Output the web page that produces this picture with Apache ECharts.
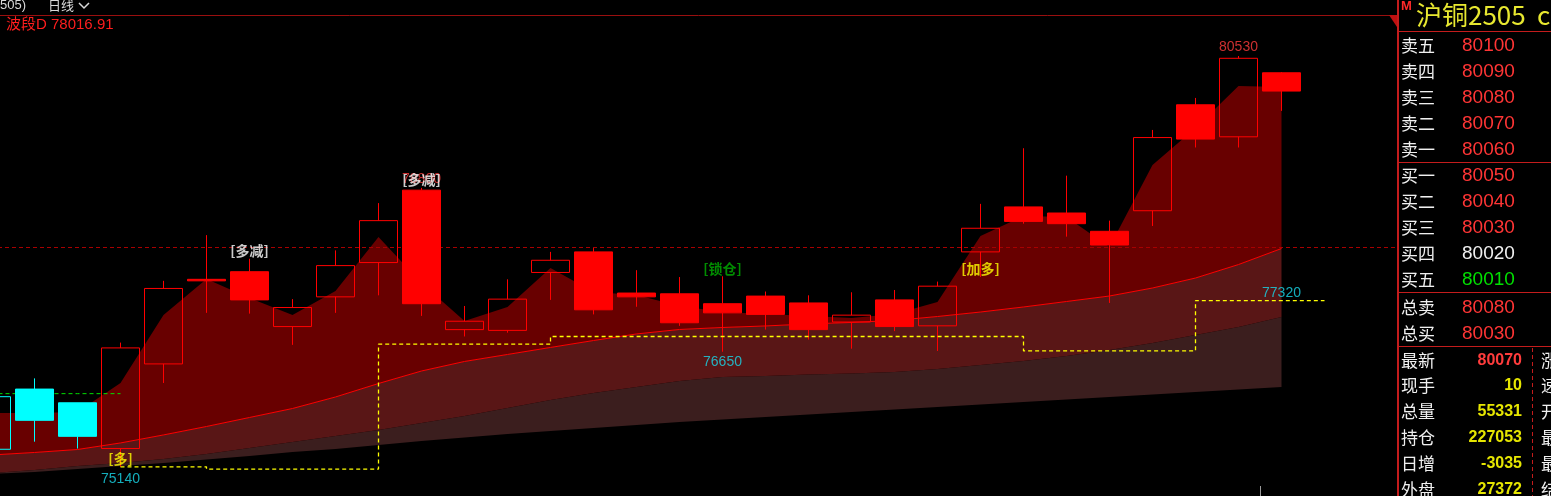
<!DOCTYPE html>
<html><head><meta charset="utf-8">
<script src="https://cdn.jsdelivr.net/npm/echarts@6/dist/echarts.min.js"></script>
<style>html,body{margin:0;padding:0;background:#000;overflow:hidden}#c{width:1551px;height:496px}</style>
</head><body><div id="c"></div>
<script>
// ---------- data ----------
const categories = ['1','2','3','4','5','6','7','8','9','10','11','12','13','14','15','16','17','18','19','20','21','22','23','24','25','26','27','28','29','30','31','32','33','34'];
const opens  = [75370,76160,75980,75380,76490,77600,77700,76980,77370,77820,78770,76940,76930,77690,77960,77420,77410,77280,77380,77290,77040,77330,76990,77960,78550,78470,78230,78500,79890,79470,80310];
const closes = [76060,75750,75540,76700,77480,77580,77330,77230,77780,78370,77280,77050,77340,77850,77200,77370,77030,77160,77140,76940,77130,76980,77510,78270,78360,78330,78050,79460,79440,80500,80070];
const lows   = [75300,75470,75380,75140,76240,77160,77150,76740,77160,77390,77120,76850,76900,77330,77140,77240,76990,76650,76940,76810,76690,76920,76660,77630,78330,78160,77290,78300,79330,79330,79810];
const highs  = [76150,76300,75980,76770,77580,78180,77870,77340,77980,78600,78800,77250,77600,77960,78010,77720,77630,77640,77440,77390,77430,77460,77570,78590,79320,78960,78370,79560,79980,80530,80320];
const trend  = ['bear','bear','bear','bull','bull','bull','bull','bull','bull','bull','bull','bull','bull','bull','bull','bull','bull','bull','bull','bull','bull','bull','bull','bull','bull','bull','bull','bull','bull','bull','bull'];
const waveLine = [75846,75846,75859,76240,77132,77604,77355,77132,77447,78155,77552,77053,77237,77749,77434,77394,77250,77171,77145,77119,77093,77145,77302,78168,78431,78418,78024,79100,79585,80136,80123];
const emaLine  = [75295,75328,75367,75453,75558,75669,75787,75905,76056,76233,76397,76522,76614,76706,76797,76883,76942,76968,76988,77014,77034,77060,77112,77171,77237,77309,77381,77486,77617,77794,78004];
const bandMid  = [75059,75098,75151,75190,75243,75308,75387,75466,75544,75623,75715,75807,75912,76017,76109,76187,76266,76318,76332,76351,76364,76384,76423,76476,76528,76594,76673,76765,76870,76974,77106];
const bandLow  = [75046,75072,75111,75151,75190,75236,75282,75334,75374,75426,75479,75525,75571,75610,75649,75689,75728,75761,75794,75826,75859,75892,75925,75958,75990,76023,76056,76089,76122,76154,76187];
const stopLine = [null,null,null,75140,75140,75110,75110,75110,75110,76750,76750,76750,76750,76850,76850,76850,76850,76850,76850,76850,76850,76850,76850,76850,76660,76660,76660,76660,77320,77320,77320,77320];
const greenLine = [76100,76100,76100,76100];
const bandValue = 78016.91;
const signals = [
  {idx:3,  at:'low',  text:'[多]'},
  {idx:6,  at:'high', text:'[多减]'},
  {idx:10, at:'high', text:'[多减]'},
  {idx:17, at:'high', text:'[锁仓]'},
  {idx:23, at:'low',  text:'[加多]'}
];
const extremeLabels = [
  {idx:3,  at:'low'},
  {idx:10, at:'high'},
  {idx:17, at:'low'},
  {idx:29, at:'high'}
];
const stopLabelIdx = 30;
const bookLabels = ['卖五','卖四','卖三','卖二','卖一','买一','买二','买三','买四','买五'];
const bookPrices = [80100,80090,80080,80070,80060,80050,80040,80030,80020,80010];
const totalLabels = ['总卖','总买'];
const totalPrices = [80080,80030];
const prevSettle = 80020;
const statLabels = ['最新','现手','总量','持仓','日增','外盘'];
const statValues = ['80070','10','55331','227053','-3035','27372'];
const sideLabels = ['涨','速','开','最','最','结'];

// ---------- chart ----------
const RED='#ff0000', CYAN='#00ffff';
const candleData = opens.map((o,i)=>{
  const it = {value:[o,closes[i],lows[i],highs[i]]};
  if (trend[i]==='bear') {
    const fill = closes[i] < o ? CYAN : 'rgba(0,0,0,0)';
    it.itemStyle = {color:fill,color0:fill,borderColor:CYAN,borderColor0:CYAN};
  }
  return it;
});
// stacked band layers (library needs each band as thickness above the one below)
const layerC = bandMid.map((v,i)=>v-bandLow[i]);
const layerB = emaLine.map((v,i)=>v-bandMid[i]);
const layerA = waveLine.map((v,i)=>v-emaLine[i]);

const sigColor = {'[多]':'#ffff00','[多减]':'#ffffff','[锁仓]':'#00b000','[加多]':'#ffff00'};
const labelData = [];
extremeLabels.forEach(e=>{
  const v = e.at==='high'?highs[e.idx]:lows[e.idx];
  const isHigh = e.at==='high';
  labelData.push({value:[e.idx,v],label:{show:true,formatter:String(v),
    color: isHigh?'#ff3c3c':'#19d8ea', offset:[0, isHigh?-9:(e.idx===3?12:10)],
    fontSize:14, fontFamily:'Liberation Sans, Arial, sans-serif'}});
});
signals.forEach(s=>{
  const v = s.at==='high'?highs[s.idx]:lows[s.idx];
  labelData.push({value:[s.idx,v],label:{show:true,formatter:s.text,color:sigColor[s.text],
    offset:[0,-8], fontSize:14, fontWeight:'bold',
    fontFamily:'"Noto Sans CJK SC", sans-serif'}});
});
labelData.push({value:[stopLabelIdx, stopLine[stopLabelIdx]],label:{show:true,formatter:String(stopLine[stopLabelIdx]),
  color:'#19d8ea',offset:[0,-8],fontSize:14,fontFamily:'Liberation Sans, Arial, sans-serif'}});

const gfx = [];
const T = (x,y,text,fill,font,align,z)=>gfx.push({type:'text',x:x,y:y,z:z||102,silent:true,
  style:{text:text,fill:fill,font:font,align:align||'left',verticalAlign:'middle'}});
const L = (x1,y1,x2,y2,stroke,w,dash)=>gfx.push({type:'line',z:101,silent:true,
  shape:{x1:x1,y1:y1,x2:x2,y2:y2},style:{stroke:stroke,lineWidth:w||1,lineDash:dash||null}});
// header
L(0,15.5,1397,15.5,'#9a0f0f',1);
T(0,5,'505)','#d9d9d9','13px "Liberation Sans", sans-serif');
T(48,5,'日线','#d9d9d9','13px "Noto Sans CJK SC", sans-serif');
gfx.push({type:'polyline',z:102,silent:true,shape:{points:[[79,3],[84,8],[89,3]]},style:{stroke:'#d9d9d9',lineWidth:1.5,fill:null}});
T(6,25,'波段D '+bandValue.toFixed(2),'#ff1e1e','15px "Liberation Sans", "Noto Sans CJK SC", sans-serif');
// small marker at the bottom
L(1260.5,486,1260.5,496,'#9a9a9a',1);
// right panel
gfx.push({type:'rect',z:100,silent:true,shape:{x:1397,y:0,width:154,height:496},style:{fill:'#000'}});
L(1398,0,1398,496,'#c41c1c',2);
[31.5,162.5,292.5,346.5].forEach(y=>L(1398,y,1551,y,'#c41c1c',1));
L(1532.5,348,1532.5,496,'#c41c1c',1,[4,3]);
gfx.push({type:'polygon',z:102,silent:true,shape:{points:[[1389,15],[1397,15],[1397,27]]},style:{fill:'#c01010'}});
T(1401,6,'M','#ff2a2a','bold 13px "Liberation Sans", sans-serif');
T(1416,15,'沪铜2505','#e8e830','26px "Noto Sans CJK SC", sans-serif');
T(1537,15,'cu2505','#e8e830','26px "Noto Sans CJK SC", sans-serif');
const pc = p=> p>prevSettle?'#ff3535':(p<prevSettle?'#00e000':'#f0f0f0');
bookLabels.forEach((l,i)=>{
  const y = i<5 ? 46+26*i : 176+26*(i-5);
  T(1401,y,l,'#f0f0f0','17px "Noto Sans CJK SC", sans-serif');
  T(1462,y,String(bookPrices[i]),pc(bookPrices[i]),'19px "Liberation Sans", sans-serif');
});
totalLabels.forEach((l,i)=>{
  const y = 308+26*i;
  T(1401,y,l,'#f0f0f0','17px "Noto Sans CJK SC", sans-serif');
  T(1462,y,String(totalPrices[i]),pc(totalPrices[i]),'19px "Liberation Sans", sans-serif');
});
const statY=[361,386,412,438,464,490];
statLabels.forEach((l,i)=>{
  T(1401,statY[i],l,'#f0f0f0','17px "Noto Sans CJK SC", sans-serif');
  T(1522,statY[i],statValues[i], i===0?'#ff3c3c':'#e6e600','bold 16px "Liberation Sans", sans-serif','right');
  T(1541,statY[i],sideLabels[i],'#f0f0f0','17px "Noto Sans CJK SC", sans-serif');
});

const chart = echarts.init(document.getElementById('c'),null,{renderer:'canvas'});
chart.setOption({
  backgroundColor:'#000',
  animation:false,
  grid:{left:-30, top:16, width:1462, height:480, containLabel:false, outerBoundsMode:'none'},
  xAxis:{type:'category',data:categories,boundaryGap:true,show:false},
  yAxis:{type:'value',min:74757,max:81055,show:false,splitLine:{show:false}},
  series:[
    {type:'line',data:[],z:0,silent:true,
     markLine:{silent:true,symbol:'none',label:{show:false},
       lineStyle:{color:'#a80000',type:[4,3],width:1},data:[{yAxis:bandValue}]}},
    {type:'line',data:bandLow,stack:'band',symbol:'none',z:1,silent:true,lineStyle:{opacity:0}},
    {type:'line',data:layerC,stack:'band',symbol:'none',z:1,silent:true,lineStyle:{opacity:0},
     areaStyle:{color:'#3b1e1e',opacity:1}},
    {type:'line',data:layerB,stack:'band',symbol:'none',z:2,silent:true,lineStyle:{color:'#ff0000',width:1},
     areaStyle:{color:'#591616',opacity:1}},
    {type:'line',data:layerA,stack:'band',symbol:'none',z:1,silent:true,lineStyle:{opacity:0},
     areaStyle:{color:'#680000',opacity:1}},
    {type:'line',data:greenLine,symbol:'none',z:5,silent:true,lineStyle:{color:'#00e000',width:1,type:[4,3]}},
    {type:'candlestick',data:candleData,z:6,barWidth:38,silent:true,
     itemStyle:{color:'rgba(0,0,0,0)',color0:RED,borderColor:RED,borderColor0:RED,borderWidth:1}},
    {type:'line',data:stopLine,step:'end',symbol:'none',z:7,silent:true,connectNulls:false,
     lineStyle:{color:'#ffff00',width:1.3,type:[4,3]}},
    {type:'scatter',data:labelData,symbolSize:0,z:8,silent:true,label:{show:true,position:'inside'}}
  ],
  graphic:gfx
});
</script></body></html>
